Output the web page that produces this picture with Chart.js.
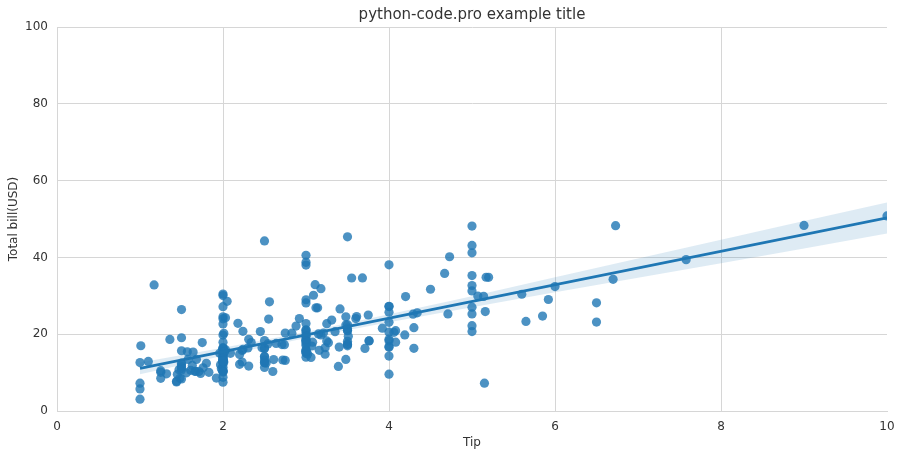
<!DOCTYPE html>
<html>
<head>
<meta charset="utf-8">
<script src="https://cdn.jsdelivr.net/npm/chart.js@4"></script>
<style>
html,body{margin:0;padding:0;background:#fff;}
#wrap{width:901px;height:459px;}
</style>
</head>
<body>
<div id="wrap"><canvas id="c" width="901" height="459"></canvas></div>
<script>
// Tip (x) values
const tip = [1.01,1.66,3.50,3.31,3.61,4.71,2.00,3.12,1.96,3.23,1.71,5.00,1.57,3.00,3.02,3.92,1.67,3.71,3.50,3.35,
4.08,2.75,2.23,7.58,3.18,2.34,2.00,2.00,4.30,3.00,1.45,2.50,3.00,2.45,3.27,3.60,2.00,3.07,2.31,5.00,
2.24,2.54,3.06,1.32,5.60,3.00,5.00,6.00,2.05,3.00,2.50,2.60,5.20,1.56,4.34,3.51,3.00,1.50,1.76,6.73,
3.21,2.00,1.98,3.76,2.64,3.15,2.47,1.00,2.01,2.09,1.97,3.00,3.14,5.00,2.20,1.25,3.08,4.00,3.00,2.71,
3.00,3.40,1.83,5.00,2.03,5.17,2.00,4.00,5.85,3.00,3.00,3.50,1.00,4.30,3.25,4.73,4.00,1.50,3.00,1.50,
2.50,3.00,2.50,3.48,4.08,1.64,4.06,4.29,3.76,4.00,3.00,1.00,4.00,2.55,4.00,3.50,5.07,1.50,1.80,2.92,
2.31,1.68,2.50,2.00,2.52,4.20,1.48,2.00,2.00,2.18,1.50,2.83,1.50,2.00,3.25,1.25,2.00,2.00,2.00,2.75,
3.50,6.70,5.00,5.00,2.30,1.50,1.36,1.63,1.73,2.00,2.50,2.00,2.74,2.00,2.00,5.14,5.00,3.75,2.61,2.00,
3.50,2.50,2.00,2.00,3.00,3.48,2.24,4.50,1.61,2.00,10.00,3.16,5.15,3.18,4.00,3.11,2.00,2.00,4.00,3.55,
3.68,5.65,3.50,6.50,3.00,5.00,3.50,2.00,3.50,4.00,1.50,4.19,2.56,2.02,4.00,1.44,2.00,5.00,2.00,2.00,
4.00,2.01,2.00,2.50,4.00,3.23,3.41,3.00,2.03,2.23,2.00,5.16,9.00,2.50,6.50,1.10,3.00,1.50,1.44,3.09,
2.20,3.48,1.92,3.00,1.58,2.50,2.00,3.00,2.72,2.88,2.00,3.00,3.39,1.47,3.00,1.25,1.00,1.17,4.67,5.92,
2.00,2.00,1.75,3.00];
// Total bill (y) values
const totalBill = [16.99,10.34,21.01,23.68,24.59,25.29,8.77,26.88,15.04,14.78,10.27,35.26,15.42,18.43,14.83,21.58,10.33,16.29,16.97,20.65,
17.92,20.29,15.77,39.42,19.82,17.81,13.37,12.69,21.70,19.65,9.55,18.35,15.06,20.69,17.78,24.06,16.31,16.93,18.69,31.27,
16.04,17.46,13.94,9.68,30.40,18.29,22.23,32.40,28.55,18.04,12.54,10.29,34.81,9.94,25.56,19.49,38.01,26.41,11.24,48.27,
20.29,13.81,11.02,18.29,17.59,20.08,16.45,3.07,20.23,15.01,12.02,17.07,26.86,25.28,14.73,10.51,17.92,27.20,22.76,17.29,
19.44,16.66,10.07,32.68,15.98,34.83,13.03,18.28,24.71,21.16,28.97,22.49,5.75,16.32,22.75,40.17,27.28,12.03,21.01,12.46,
11.35,15.38,44.30,22.42,20.92,15.36,20.49,25.21,18.24,14.31,14.00,7.25,38.07,23.95,25.71,17.31,29.93,10.65,12.43,24.08,
11.69,13.42,14.26,15.95,12.48,29.80,8.52,14.52,11.38,22.82,19.08,20.27,11.17,12.26,18.26,8.51,10.33,14.15,16.00,13.16,
17.47,34.30,41.19,27.05,16.43,8.35,18.64,11.87,9.78,7.51,14.07,13.13,17.26,24.55,19.77,29.85,48.17,25.00,13.39,16.49,
21.50,12.66,16.21,13.81,17.51,24.52,20.76,31.71,10.59,10.63,50.81,15.81,7.25,31.85,16.82,32.90,17.89,14.48,9.60,34.63,
34.65,23.33,45.35,23.17,40.55,20.69,20.90,30.46,18.15,23.10,15.69,19.81,28.44,15.48,16.58,7.56,10.34,43.11,13.00,13.51,
18.71,12.74,13.00,16.40,20.53,16.47,26.59,38.73,24.27,12.76,30.06,25.89,48.33,13.27,28.17,12.90,28.15,11.59,7.74,30.14,
12.16,13.42,8.58,15.98,13.42,16.27,10.09,20.45,13.28,22.12,24.01,15.69,11.61,10.77,15.53,10.07,12.60,32.83,35.83,29.03,
27.18,22.67,17.82,18.78];
// Regression line and confidence band
const fitX = [1, 10];
const fitY = [11.1, 50.3];
const bandX = [1, 2, 3, 4, 5, 6, 7, 8, 9, 10];
const bandUpper = [12.6, 16.5, 20.6, 25.2, 29.9, 34.8, 39.7, 44.6, 49.5, 54.3];
const bandLower = [9.6, 14.4, 19.0, 23.1, 27.0, 30.9, 34.7, 38.5, 42.3, 46.2];
const xTicks = [0, 2, 4, 6, 8, 10];
const yTicks = [0, 20, 40, 60, 80, 100];

const toXY = (xs, ys) => xs.map((x, i) => ({x: x, y: ys[i]}));
const blue = '#1f77b4';
const gridC = '#d6d6d6';
const textC = '#333333';
const fam = '"DejaVu Sans", sans-serif';

// center the title over the plot area (as matplotlib does)
const titleOverPlot = {
  id: 'titleOverPlot',
  afterLayout(chart) {
    const t = chart.titleBlock;
    if (t) { t.left = chart.chartArea.left; t.right = chart.chartArea.right; t.width = t.right - t.left; }
  }
};

new Chart(document.getElementById('c'), {
  type: 'scatter',
  plugins: [titleOverPlot],
  data: {
    datasets: [
      {type: 'line', data: toXY(fitX, fitY), borderColor: blue, borderWidth: 2.6, pointRadius: 0, fill: false, order: 0},
      {type: 'line', data: toXY(bandX, bandUpper), borderWidth: 0, borderColor: 'rgba(0,0,0,0)', pointRadius: 0,
        fill: '+1', backgroundColor: 'rgba(31,119,180,0.15)', order: 1},
      {type: 'line', data: toXY(bandX, bandLower), borderWidth: 0, borderColor: 'rgba(0,0,0,0)', pointRadius: 0, fill: false, order: 1},
      {data: toXY(tip, totalBill), backgroundColor: 'rgba(31,119,180,0.8)', borderWidth: 0, pointRadius: 4.6, order: 2}
    ]
  },
  options: {
    responsive: false,
    animation: false,
    devicePixelRatio: 1,
    layout: {padding: {left: 0, right: 14, top: 0, bottom: 0}},
    plugins: {
      legend: {display: false},
      tooltip: {enabled: false},
      title: {display: true, text: 'python-code.pro example title', color: textC,
        font: {family: fam, size: 15, weight: 'normal'}, padding: {top: 6, bottom: 3}}
    },
    scales: {
      x: {
        type: 'linear', min: 0, max: 10,
        afterBuildTicks: s => { s.ticks = xTicks.map(v => ({value: v})); },
        afterFit: s => { s.height = 48; s.paddingRight = 0; s.paddingLeft = 0; },
        grid: {color: ctx => (ctx.tick && ctx.tick.value === 10) ? 'rgba(0,0,0,0)' : gridC, drawTicks: false, lineWidth: 1},
        border: {display: true, color: gridC},
        ticks: {color: textC, font: {family: fam, size: 12}, padding: 9, maxRotation: 0},
        title: {display: true, text: 'Tip', color: textC, font: {family: fam, size: 12}, padding: {top: 4, bottom: 9}}
      },
      y: {
        type: 'linear', min: 0, max: 100,
        afterBuildTicks: s => { s.ticks = yTicks.map(v => ({value: v})); },
        afterFit: s => { s.width = 57; },
        grid: {color: gridC, drawTicks: false, lineWidth: 1},
        border: {display: true, color: gridC},
        ticks: {color: textC, font: {family: fam, size: 12}, padding: 9},
        title: {display: true, text: 'Total bill(USD)', color: textC, font: {family: fam, size: 12}, padding: {top: 7, bottom: 4}}
      }
    }
  }
});
</script>
</body>
</html>
